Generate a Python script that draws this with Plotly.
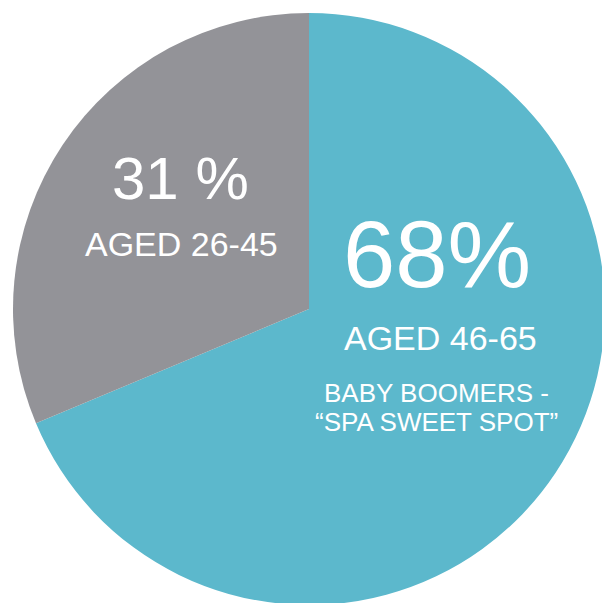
import plotly.graph_objects as go

labels = ["Aged 46-65", "Aged 26-45"]
values = [68, 31]
colors = ["#5cb8cc", "#939398"]

pct_text = ["68%", "31 %"]
age_text = ["AGED 46-65", "AGED 26-45"]
note_lines = ["BABY BOOMERS -", "\u201cSPA SWEET SPOT\u201d"]

W, H = 605, 618

fig = go.Figure(go.Pie(
    labels=labels,
    values=values,
    marker=dict(colors=colors, line=dict(width=0)),
    sort=False,
    direction="clockwise",
    rotation=0,
    textinfo="none",
    hoverinfo="label+percent",
    domain=dict(x=[13 / W, 1.0], y=[0, 1]),
    showlegend=False,
))

def px2y(py):
    return 1 - py / H

def px2x(px):
    return px / W

font_family = "Liberation Sans, Arial, sans-serif"
anns = [
    (pct_text[1], 180, 178.5, 60),
    (age_text[1], 181, 243.5, 34),
    (pct_text[0], 437, 254, 94),
    (age_text[0], 440, 337.5, 34),
    (note_lines[0], 437, 392.5, 26),
    (note_lines[1], 437, 422, 26),
]
for txt, x, y, size in anns:
    fig.add_annotation(
        text=txt, x=px2x(x), y=px2y(y), xref="paper", yref="paper",
        xanchor="center", yanchor="middle", showarrow=False,
        font=dict(family=font_family, size=size, color="white"),
    )

fig.update_layout(
    width=W, height=H,
    margin=dict(l=0, r=0, t=0, b=0),
    paper_bgcolor="white",
    plot_bgcolor="white",
)

fig.write_html(
    "out.html",
    config={"displayModeBar": False},
    post_script="document.body.style.margin='0';document.body.style.overflow='hidden';",
)
